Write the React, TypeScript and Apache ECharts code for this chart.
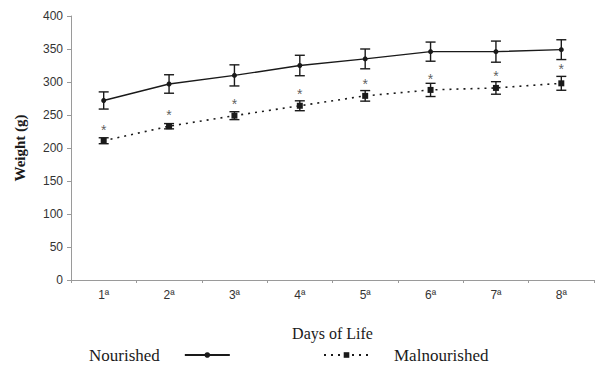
import React, { useEffect, useRef } from "react";
import * as echarts from "echarts";

const days = ["1ª", "2ª", "3ª", "4ª", "5ª", "6ª", "7ª", "8ª"];
const nourishedMean = [272, 297, 310, 325, 335, 346, 346, 349];
const nourishedErr = [13, 14, 16, 15.5, 15, 14.5, 16, 15];
const malMean = [211, 233, 249, 264, 279, 288, 291, 298];
const malErr = [4.5, 4, 6, 7.5, 8, 10, 9.5, 10.5];
const starPos = [232, 255, 271, 286, 302, 309, 314, 324];
const yTicks = [0, 50, 100, 150, 200, 250, 300, 350, 400];

const INK = "#1a1a1a";

function errorSeries(name: string, mean: number[], err: number[]) {
  return {
    type: "custom",
    name,
    silent: true,
    z: 5,
    data: mean.map((m, i) => [i, m - err[i], m + err[i]]),
    renderItem: (params: any, api: any) => {
      const x = api.value(0);
      const lo = api.coord([x, api.value(1)]);
      const hi = api.coord([x, api.value(2)]);
      const hw = 5;
      const style = { stroke: INK, lineWidth: 1.4, fill: null };
      return {
        type: "group",
        children: [
          { type: "line", shape: { x1: lo[0], y1: lo[1], x2: hi[0], y2: hi[1] }, style },
          { type: "line", shape: { x1: lo[0] - hw, y1: lo[1], x2: lo[0] + hw, y2: lo[1] }, style },
          { type: "line", shape: { x1: hi[0] - hw, y1: hi[1], x2: hi[0] + hw, y2: hi[1] }, style },
        ],
      };
    },
  };
}

export default function App() {
  const ref = useRef<HTMLDivElement>(null);
  useEffect(() => {
    if (!ref.current) return;
    const chart = echarts.init(ref.current, undefined, { renderer: "svg" });
    const serif = "'Liberation Serif', 'Times New Roman', serif";
    const sans = "'Liberation Sans', Arial, sans-serif";
    chart.setOption({
      animation: false,
      backgroundColor: "#ffffff",
      grid: { left: 71, right: 1, top: 16, bottom: 85, containLabel: false },
      legend: [
        {
          data: ["Nourished"],
          left: 89,
          top: 346,
          padding: 0,
          align: "right",
          itemWidth: 45,
          itemHeight: 7,
          selectedMode: false,
          textStyle: { fontFamily: serif, fontSize: 17, lineHeight: 18, color: INK, padding: [0, 20, 0, 0] },
        },
        {
          data: ["Malnourished"],
          left: 323,
          top: 346,
          padding: 0,
          align: "left",
          itemWidth: 45,
          itemHeight: 7,
          selectedMode: false,
          textStyle: { fontFamily: serif, fontSize: 17, lineHeight: 18, color: INK, padding: [0, 0, 0, 20] },
        },
      ],
      xAxis: {
        type: "category",
        data: days,
        boundaryGap: true,
        name: "Days of Life",
        nameLocation: "middle",
        nameGap: 45,
        nameTextStyle: { fontFamily: serif, fontSize: 16, color: INK },
        axisLine: { lineStyle: { color: "#9a9a9a", width: 1 } },
        axisTick: { show: true, length: 3, lineStyle: { color: "#9a9a9a" } },
        axisLabel: { fontFamily: sans, fontSize: 12, color: "#333", margin: 9 },
      },
      yAxis: {
        type: "value",
        min: yTicks[0],
        max: yTicks[yTicks.length - 1],
        interval: 50,
        name: "Weight (g)",
        nameLocation: "middle",
        nameGap: 44,
        nameRotate: 90,
        nameTextStyle: { fontFamily: serif, fontSize: 15, fontWeight: "bold", color: INK },
        axisLine: { show: true, lineStyle: { color: "#9a9a9a", width: 1 } },
        axisTick: { show: true, length: 4, lineStyle: { color: "#9a9a9a" } },
        axisLabel: { fontFamily: sans, fontSize: 12, color: "#333", margin: 8 },
        splitLine: { show: false },
      },
      series: [
        {
          name: "Nourished",
          type: "line",
          data: nourishedMean,
          z: 6,
          symbol: "circle",
          symbolSize: 5,
          itemStyle: { color: INK },
          lineStyle: { color: INK, width: 1.4, type: "solid" },
        },
        {
          name: "Malnourished",
          type: "line",
          data: malMean,
          z: 6,
          symbol: "rect",
          symbolSize: 6,
          itemStyle: { color: INK },
          lineStyle: { color: INK, width: 1.6, type: [2, 5] },
        },
        errorSeries("nErr", nourishedMean, nourishedErr),
        errorSeries("mErr", malMean, malErr),
        {
          name: "stars",
          type: "scatter",
          data: starPos,
          symbolSize: 0,
          silent: true,
          itemStyle: { color: "#333" },
          label: {
            show: true,
            position: "inside",
            formatter: () => "*",
            fontFamily: sans,
            fontSize: 14,
            color: "#333",
            offset: [0, 3],
          },
        },
      ],
    });
    return () => chart.dispose();
  }, []);
  return (
    <div
      ref={ref}
      style={{ position: "fixed", left: 0, top: 0, width: 595, height: 365, background: "#fff" }}
    />
  );
}
